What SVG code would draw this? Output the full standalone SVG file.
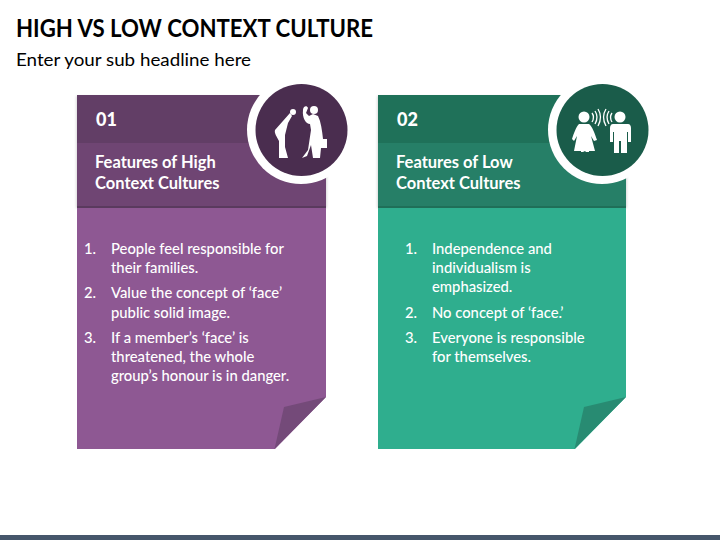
<svg xmlns="http://www.w3.org/2000/svg" width="720" height="540" viewBox="0 0 720 540">
<defs>
<filter id="sh" x="-20%" y="-20%" width="140%" height="140%"><feGaussianBlur stdDeviation="1.200"/></filter>
</defs>
<style>
text{font-family:Lato,"Open Sans","Liberation Sans",sans-serif}
.t{fill:#000}
.w{fill:#fff}
.b{font-weight:700}
.n{font-size:18px;font-weight:900}
.h{font-size:16.5px;font-weight:700}
.l{font-size:14.8px;font-weight:500}
.i{fill:#fff}
</style>
<rect width="720" height="540" fill="#fff"/>
<rect y="535" width="720" height="5" fill="#46566b"/>
<text class="t b" x="16" y="37" font-size="25" font-weight="900" textLength="357" lengthAdjust="spacingAndGlyphs">HIGH VS LOW CONTEXT CULTURE</text>
<text class="t" x="16" y="66" font-size="18" textLength="235" lengthAdjust="spacingAndGlyphs">Enter your sub headline here</text>

<g id="card1">
<path d="M77 95H326V397L275 449H77Z" fill="#8e5893"/>
<rect x="76" y="96" width="251" height="112" fill="#000" opacity=".14" filter="url(#sh)"/>
<rect x="77" y="95" width="249" height="48" fill="#623e66"/>
<rect x="77" y="143" width="249" height="63" fill="#6f4573"/>
<rect x="77" y="206" width="249" height="2" fill="#5a3a5e"/>
<rect x="77" y="208" width="249" height="60" fill="#8e5893"/>
<path d="M326 397L284 407L274.500 449Z" fill="#744a79"/>
<circle cx="301" cy="130" r="50" fill="#000" opacity=".3" filter="url(#sh)"/>
<circle cx="301" cy="130" r="54" fill="#fff"/>
<circle cx="301.500" cy="130" r="46" fill="#4a2d4f"/>
<circle class="i" cx="293" cy="112" r="3"/>
<path class="i" d="M290 113L275 130C274 133 277 137 279 141V158H288L285 147L285 135L288 123L292 116Z"/>
<circle class="i" cx="314" cy="110" r="4"/>
<path class="i" d="M303 110C303 106 307 105 308 108L306 113L309 116L313 114L318 116C321 122 322 130 323 139H327V148H321L320 158H313L311 145L307 156L302 158L308 150L311 130L310 124C306 124 302 118 303 110Z"/>
<text class="w n" x="96" y="126">01</text>
<text class="w h"><tspan x="95" y="168">Features of High</tspan><tspan x="95" y="189">Context Cultures</tspan></text>
<text class="w l">
<tspan x="84" y="254">1.</tspan><tspan x="111" y="254">People feel responsible for</tspan>
<tspan x="111" y="273">their families.</tspan>
<tspan x="84" y="298">2.</tspan><tspan x="111" y="298">Value the concept of ‘face’</tspan>
<tspan x="111" y="318">public solid image.</tspan>
<tspan x="84" y="343">3.</tspan><tspan x="111" y="343">If a member’s ‘face’ is</tspan>
<tspan x="111" y="362">threatened, the whole</tspan>
<tspan x="111" y="381">group’s honour is in danger.</tspan>
</text>
</g>

<g id="card2">
<path d="M378 95H626V397L575 449H378Z" fill="#2fae8e"/>
<rect x="377" y="96" width="250" height="112" fill="#000" opacity=".14" filter="url(#sh)"/>
<rect x="378" y="95" width="248" height="48" fill="#1f7159"/>
<rect x="378" y="143" width="248" height="63" fill="#267f67"/>
<rect x="378" y="206" width="248" height="2" fill="#1f6f58"/>
<rect x="378" y="208" width="248" height="60" fill="#2fae8e"/>
<path d="M626 397L584 407L574.500 449Z" fill="#288b72"/>
<circle cx="602" cy="130" r="50" fill="#000" opacity=".3" filter="url(#sh)"/>
<circle cx="602" cy="130" r="54" fill="#fff"/>
<circle cx="602.500" cy="130" r="46" fill="#1a5c4a"/>
<circle class="i" cx="584" cy="117" r="5.500"/>
<path class="i" d="M579 124H589C592 126 595 134 597 140L594 141L591 136L595 151H589V152H586L585 151L583 152H581V151H574L577 136L574 141L572 139C574 133 576 127 579 124Z"/>
<circle class="i" cx="620" cy="117" r="5.500"/>
<path class="i" d="M613 124H628C630 124 631 126 631 128V142H628V132H627V153H621V141H619V153H614V132H613V142H610V128C610 126 611 124 613 124Z"/>
<g fill="none" stroke="#fff" stroke-width="1.300">
<path d="M592 113Q595 117 592 122M595 111Q599 117 595 124M598 109Q603 117 598 126"/>
<path d="M612 113Q609 117 612 122M609 111Q605 117 609 124M606 109Q601 117 606 126"/>
</g>
<text class="w n" x="397" y="126">02</text>
<text class="w h"><tspan x="396" y="168">Features of Low</tspan><tspan x="396" y="189">Context Cultures</tspan></text>
<text class="w l">
<tspan x="405" y="254">1.</tspan><tspan x="432" y="254">Independence and</tspan>
<tspan x="432" y="273">individualism is</tspan>
<tspan x="432" y="292">emphasized.</tspan>
<tspan x="405" y="318">2.</tspan><tspan x="432" y="318">No concept of ‘face.’</tspan>
<tspan x="405" y="343">3.</tspan><tspan x="432" y="343">Everyone is responsible</tspan>
<tspan x="432" y="362">for themselves.</tspan>
</text>
</g>
</svg>
